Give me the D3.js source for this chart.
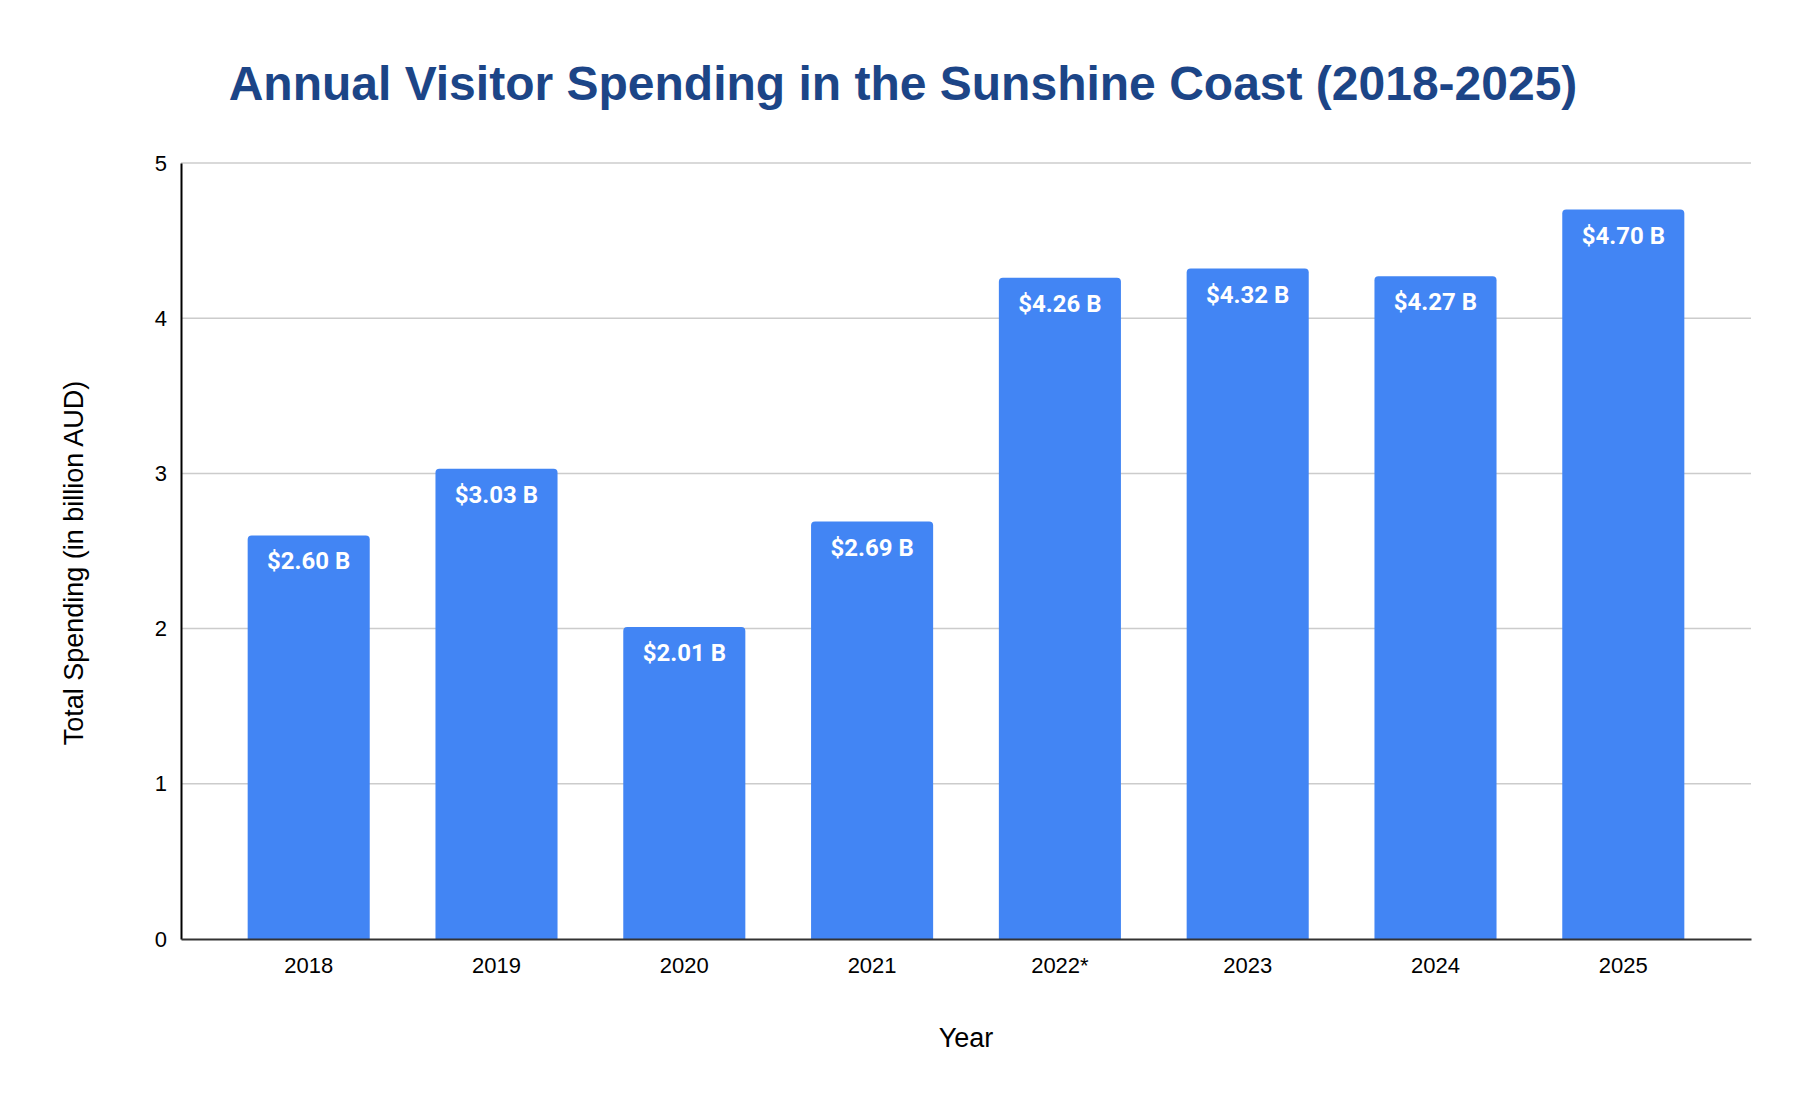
<!DOCTYPE html>
<html>
<head>
<meta charset="utf-8">
<script src="https://cdn.jsdelivr.net/npm/d3@7"></script>
<style>
  html, body { margin: 0; padding: 0; background: #fff; }
  svg { display: block; }
</style>
</head>
<body>
<div id="chart"></div>
<script>
const years = ["2018", "2019", "2020", "2021", "2022*", "2023", "2024", "2025"];
const spending = [2.60, 3.03, 2.01, 2.69, 4.26, 4.32, 4.27, 4.70];
const yTicks = [0, 1, 2, 3, 4, 5];

const width = 1806, height = 1108;
const margin = { top: 163, right: 55, bottom: 169, left: 181 };
const innerW = width - margin.left - margin.right,
  innerH = height - margin.top - margin.bottom;

const svg = d3.select("#chart").append("svg")
  .attr("width", width)
  .attr("height", height);

// titulo
svg.append("text")
  .attr("x", 903)
  .attr("y", 100)
  .attr("text-anchor", "middle")
  .attr("font-family", "Liberation Sans, Arial, sans-serif")
  .attr("font-weight", "bold")
  .attr("font-size", 48)
  .attr("fill", "#1c4587")
  .text("Annual Visitor Spending in the Sunshine Coast (2018-2025)");

const g = svg.append("g")
  .attr("transform", `translate(${margin.left},${margin.top})`);

const x = d3.scaleBand()
  .domain(years)
  .range([0, innerW])
  .paddingInner(0.35)
  .paddingOuter(0.355);

const y = d3.scaleLinear().domain([0, 5]).range([innerH, 0]);

// gridlines
g.append("g")
  .selectAll("line")
  .data(yTicks.filter((d) => d > 0))
  .enter()
  .append("line")
  .attr("x1", 0)
  .attr("x2", innerW)
  .attr("y1", (d) => y(d))
  .attr("y2", (d) => y(d))
  .attr("stroke", "#cccccc")
  .attr("stroke-width", 1.5);

// y axis
const yAxis = g.append("g")
  .call(d3.axisLeft(y).tickValues(yTicks).tickFormat(d3.format("d")).tickSize(0).tickPadding(14));
yAxis.select(".domain").attr("stroke", "#000").attr("stroke-width", 2);
yAxis.selectAll("text")
  .attr("font-family", "Liberation Sans, Arial, sans-serif")
  .attr("font-size", 22)
  .attr("fill", "#000");

// bars with rounded top corners
const r = 4;
function barPath(d, i) {
  const x0 = x(years[i]), w = x.bandwidth();
  const y0 = y(d), y1 = y(0);
  return `M${x0},${y1} V${y0 + r} Q${x0},${y0} ${x0 + r},${y0} H${x0 + w - r} Q${x0 + w},${y0} ${x0 + w},${y0 + r} V${y1} Z`;
}

g.append("g")
  .selectAll("path")
  .data(spending)
  .enter()
  .append("path")
  .attr("d", barPath)
  .attr("fill", "#4285f4");

// etiquetas de valor
g.append("g")
  .selectAll("text")
  .data(spending)
  .enter()
  .append("text")
  .attr("x", (d, i) => x(years[i]) + x.bandwidth() / 2)
  .attr("y", (d) => y(d) + 34)
  .attr("text-anchor", "middle")
  .attr("font-family", "Roboto, sans-serif")
  .attr("font-weight", "bold")
  .attr("font-size", 24)
  .attr("fill", "#ffffff")
  .text((d) => "$" + d.toFixed(2) + " B");

// x axis
const xAxis = g.append("g")
  .attr("transform", `translate(0,${innerH})`)
  .call(d3.axisBottom(x).tickSize(0).tickPadding(18));
xAxis.select(".domain").attr("stroke", "#333").attr("stroke-width", 2);
xAxis.selectAll("text")
  .attr("font-family", "Liberation Sans, Arial, sans-serif")
  .attr("font-size", 22)
  .attr("fill", "#000");

// axis titles
svg.append("text")
  .attr("x", margin.left + innerW / 2)
  .attr("y", 1047)
  .attr("text-anchor", "middle")
  .attr("font-family", "Liberation Sans, Arial, sans-serif")
  .attr("font-size", 27)
  .attr("fill", "#000")
  .text("Year");

svg.append("text")
  .attr("transform", "translate(83,563) rotate(-90)")
  .attr("text-anchor", "middle")
  .attr("font-family", "Liberation Sans, Arial, sans-serif")
  .attr("font-size", 27)
  .attr("fill", "#000")
  .text("Total Spending (in billion AUD)");
</script>
</body>
</html>
